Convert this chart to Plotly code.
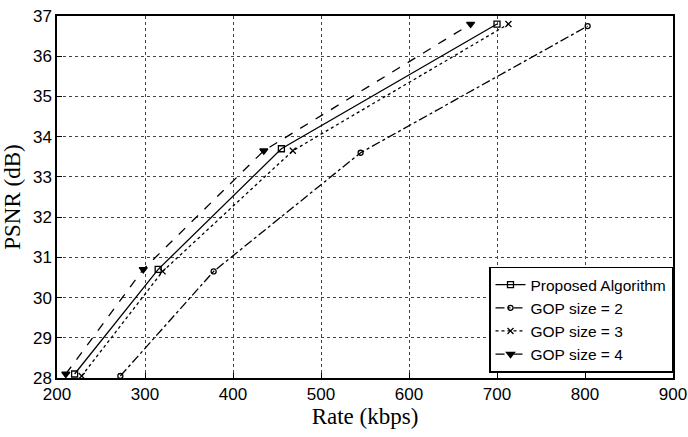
import plotly.graph_objects as go

rate_proposed = [220, 315, 455, 700]
psnr_proposed = [28.1, 30.7, 33.7, 36.8]
rate_gop2 = [272, 378, 545, 803]
psnr_gop2 = [28.05, 30.65, 33.6, 36.75]
rate_gop3 = [228, 320, 468, 713]
psnr_gop3 = [28.05, 30.65, 33.65, 36.8]
rate_gop4 = [210, 298, 435, 670]
psnr_gop4 = [28.1, 30.7, 33.65, 36.8]

x_ticks = [200, 300, 400, 500, 600, 700, 800, 900]
y_ticks = [28, 29, 30, 31, 32, 33, 34, 35, 36, 37]

fig = go.Figure()
series = [
    ("Proposed Algorithm", rate_proposed, psnr_proposed, "solid", "square-open", 6),
    ("GOP size = 2", rate_gop2, psnr_gop2, "dashdot", "circle-open", 5),
    ("GOP size = 3", rate_gop3, psnr_gop3, "dot", "x-thin-open", 6),
    ("GOP size = 4", rate_gop4, psnr_gop4, "dash", "triangle-down", 7),
]
for name, x, y, dash, sym, sz in series:
    fig.add_trace(go.Scatter(
        x=x, y=y, name=name, mode="lines+markers",
        line=dict(color="black", width=1.3, dash=dash),
        marker=dict(symbol=sym, size=sz, color="black", line=dict(color="black", width=1.3)),
    ))

axis_common = dict(
    showline=True, linecolor="black", linewidth=1.5, mirror=True,
    ticks="inside", ticklen=5, tickcolor="black",
    showgrid=True, gridcolor="#444444", griddash="dot", gridwidth=1,
    zeroline=False, automargin=False,
    tickfont=dict(family="Liberation Sans, Arial", size=17, color="black"),
)
fig.update_xaxes(range=[200, 900], tickvals=x_ticks,
                 title=dict(text="Rate (kbps)", font=dict(family="Liberation Serif, Times New Roman", size=23, color="black"), standoff=2),
                 **axis_common)
fig.update_yaxes(range=[28, 37], tickvals=y_ticks,
                 title=dict(text="PSNR (dB)", font=dict(family="Liberation Serif, Times New Roman", size=23, color="black"), standoff=6),
                 **axis_common)

fig.update_layout(
    width=688, height=437,
    margin=dict(l=57, r=15, t=16, b=59),
    paper_bgcolor="white", plot_bgcolor="white",
    legend=dict(x=1.0, y=0.015, xanchor="right", yanchor="bottom",
                bgcolor="white", bordercolor="black", borderwidth=1.5,
                font=dict(family="Liberation Sans, Arial", size=15.5, color="black"),
                tracegroupgap=0, itemwidth=30),
    showlegend=True,
)
fig.write_html("out.html",
               config={"displayModeBar": False},
               post_script="document.body.style.margin='0';document.body.style.overflow='hidden';")
